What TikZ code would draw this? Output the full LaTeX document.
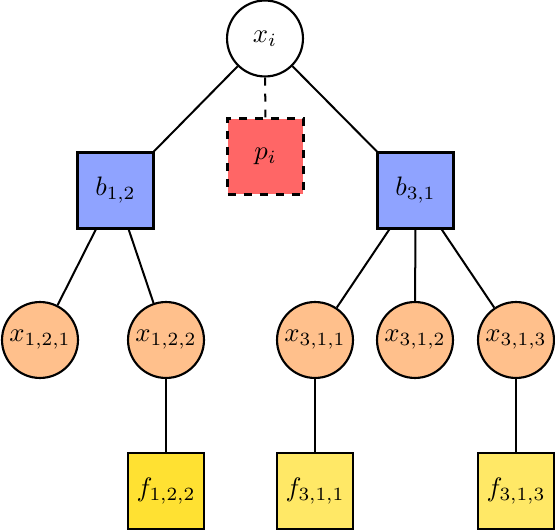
\documentclass[tikz,border=0pt]{standalone}
\definecolor{bbox}{RGB}{143,163,255}
\definecolor{pbox}{RGB}{255,102,102}
\definecolor{xcirc}{RGB}{255,192,140}
\definecolor{fdeep}{RGB}{255,225,50}
\definecolor{flight}{RGB}{255,232,102}
\tikzset{
  varnode/.style={circle,draw,line width=0.8pt,minimum size=1cm,inner sep=0pt},
  leafnode/.style={varnode,fill=xcirc},
  sqnode/.style={rectangle,draw,line width=0.8pt,minimum size=1cm,inner sep=0pt},
  edge/.style={line width=0.75pt}
}
\begin{document}
\begin{tikzpicture}[x=0.013175cm,y=-0.013175cm]
\useasboundingbox (0,0) rectangle (555,531);
\node[varnode] (xi) at (265,38.5) {$x_i$};
\node[sqnode,fill=pbox,dashed] (pi) at (265.5,156.5) {$p_i$};
\node[sqnode,fill=bbox] (b12) at (115.5,190.5) {$b_{1,2}$};
\node[sqnode,fill=bbox] (b31) at (415.5,190.5) {$b_{3,1}$};
\node[leafnode] (x121) at (40,340) {$x_{1,2,1}$};
\node[leafnode] (x122) at (166,340) {$x_{1,2,2}$};
\node[leafnode] (x311) at (315,340) {$x_{3,1,1}$};
\node[leafnode] (x312) at (415,340) {$x_{3,1,2}$};
\node[leafnode] (x313) at (516,340) {$x_{3,1,3}$};
\node[sqnode,fill=fdeep] (f122) at (166,491) {$f_{1,2,2}$};
\node[sqnode,fill=flight] (f311) at (315,491) {$f_{3,1,1}$};
\node[sqnode,fill=flight] (f313) at (516,491) {$f_{3,1,3}$};
\draw[edge] (xi) -- (b12);
\draw[edge] (xi) -- (b31);
\draw[edge,dashed] (xi) -- (pi);
\draw[edge] (b12) -- (x121);
\draw[edge] (b12) -- (x122);
\draw[edge] (b31) -- (x311);
\draw[edge] (b31) -- (x312);
\draw[edge] (b31) -- (x313);
\draw[edge] (x122) -- (f122);
\draw[edge] (x311) -- (f311);
\draw[edge] (x313) -- (f313);
\end{tikzpicture}
\end{document}
